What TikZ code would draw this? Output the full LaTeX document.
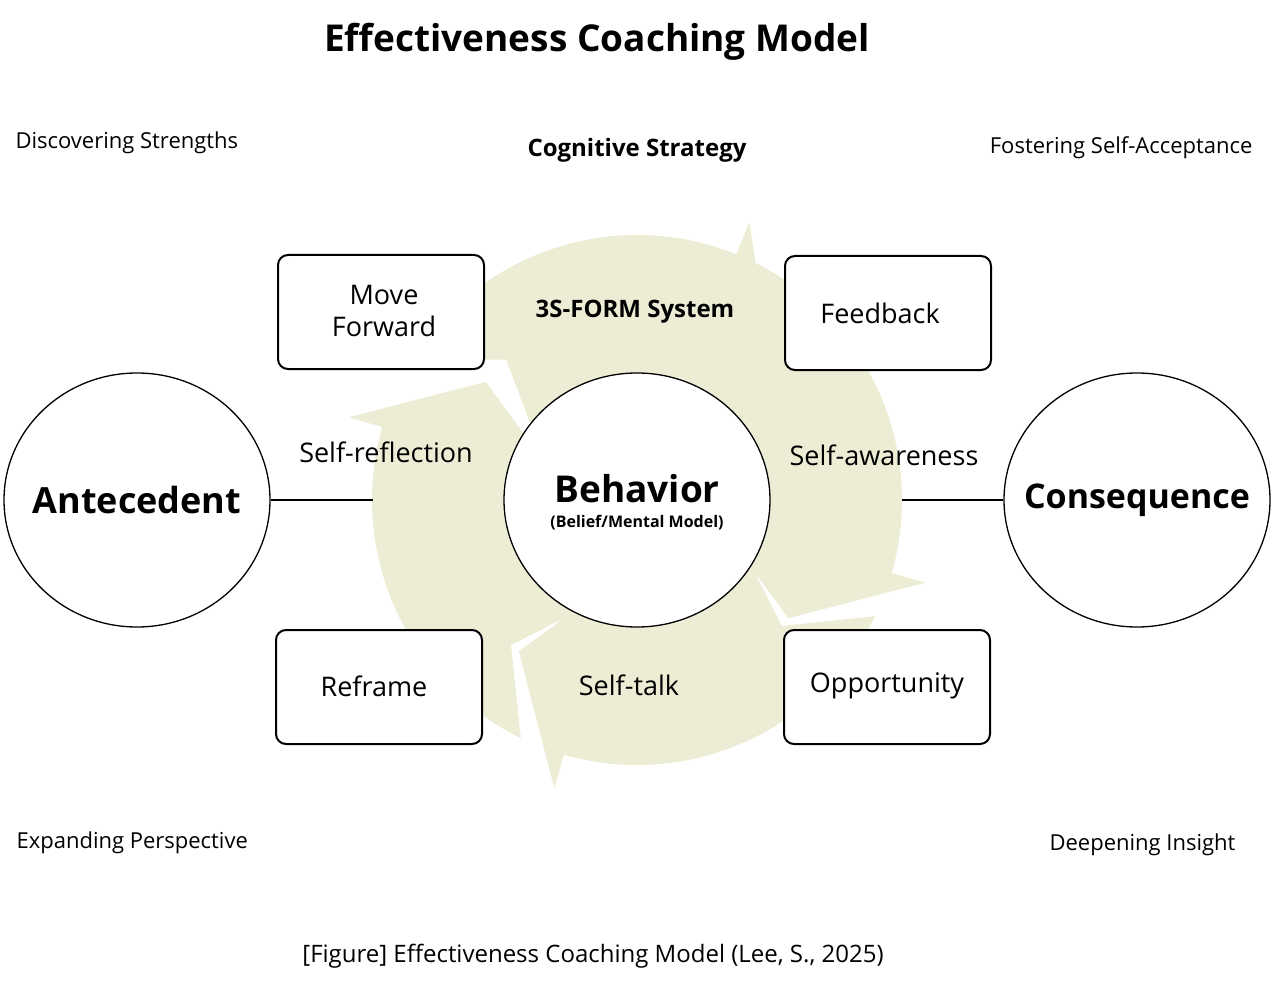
\documentclass[tikz,border=0pt]{standalone}
\usepackage{fontspec}
\setmainfont{Open Sans}
\begin{document}
\begin{tikzpicture}[x=1pt,y=-1pt,
  box/.style={draw,line width=2pt,rounded corners=10pt,minimum width=206pt,minimum height=114pt,fill=white},
  bigc/.style={draw,line width=1.3pt,ellipse,fill=white,minimum width=266pt,minimum height=254pt,inner sep=0},
  seg/.style={fill=ringc,draw=none},
  lbl/.style={font=\fontsize{22}{26}\selectfont},
  mid/.style={font=\fontsize{27}{32}\selectfont}]
\usetikzlibrary{shapes.geometric}
\definecolor{ringc}{HTML}{EDEDD6}
\useasboundingbox (0,0) rectangle (1280,987);
\node[font=\bfseries\fontsize{37}{44}\selectfont] (title) at (597,42) {Effectiveness Coaching Model};
% ring arrows
\begin{scope}[shift={(637,500)}]
\foreach \T in {314,38,128,218}{
  \pgfmathsetmacro\B{\T-22}
  \pgfmathsetmacro\S{\T-102}
  \pgfmathsetmacro\N{\T-87}
  \fill[ringc] (\S:265) arc[start angle=\S,end angle=\B,radius=265] -- (\B:300) -- (\T:192) -- (\B:85) -- (\B:120) arc[start angle=\B,end angle=\S,radius=120] -- (\N:192) -- cycle;
}
\end{scope}
\node[bigc] (beh) at (637,500) {};
\node[font=\bfseries\fontsize{37}{44}\selectfont] (behl) at (637,489) {Behavior};
\node[font=\bfseries\fontsize{16}{20}\selectfont] (bels) at (637,523) {(Belief/Mental Model)};
\node[bigc] (ant) at (137,500) {};
\node[font=\bfseries\fontsize{36}{44}\selectfont] (antl) at (137,500) {Antecedent};
\node[bigc] (con) at (1137,500) {};
\node[font=\bfseries\fontsize{34}{44}\selectfont] (conl) at (1137,500) {Consequence};
\coordinate (la) at (373,500);
\coordinate (lc) at (902,500);
\draw[line width=1.5pt] (ant.east) -- (la);
\draw[line width=1.5pt] (lc) -- (con.west);
\node[box] (mf) at (381,312) {};
\node[mid,align=center] (mft) at (384,311) {Move\\Forward};
\node[box] (fb) at (888,313) {};
\node[mid] (fbt) at (880,313) {Feedback};
\node[box] (rf) at (379,687) {};
\node[mid] (rft) at (374,686) {Reframe};
\node[box] (op) at (887,687) {};
\node[mid] (opt) at (887,686) {Opportunity};
\node[font=\bfseries\fontsize{24}{28}\selectfont] (cs) at (637,150) {Cognitive Strategy};
\node[font=\bfseries\fontsize{24}{28}\selectfont] (fs) at (635,312) {3S-FORM System};
\node[mid] (sr) at (386,452) {Self-reflection};
\node[mid] (sa) at (884,455) {Self-awareness};
\node[mid] (st) at (629,685) {Self-talk};
\node[lbl,anchor=west] (ds) at (12,143) {Discovering Strengths};
\node[lbl,anchor=east] (fsa) at (1256,148) {Fostering Self-Acceptance};
\node[lbl,anchor=west] (ep) at (13,843) {Expanding Perspective};
\node[lbl,anchor=east] (di) at (1239,845) {Deepening Insight};
\node[font=\fontsize{24}{28}\selectfont] (cap) at (593,956) {[Figure] Effectiveness Coaching Model (Lee, S., 2025)};
\end{tikzpicture}
\end{document}
